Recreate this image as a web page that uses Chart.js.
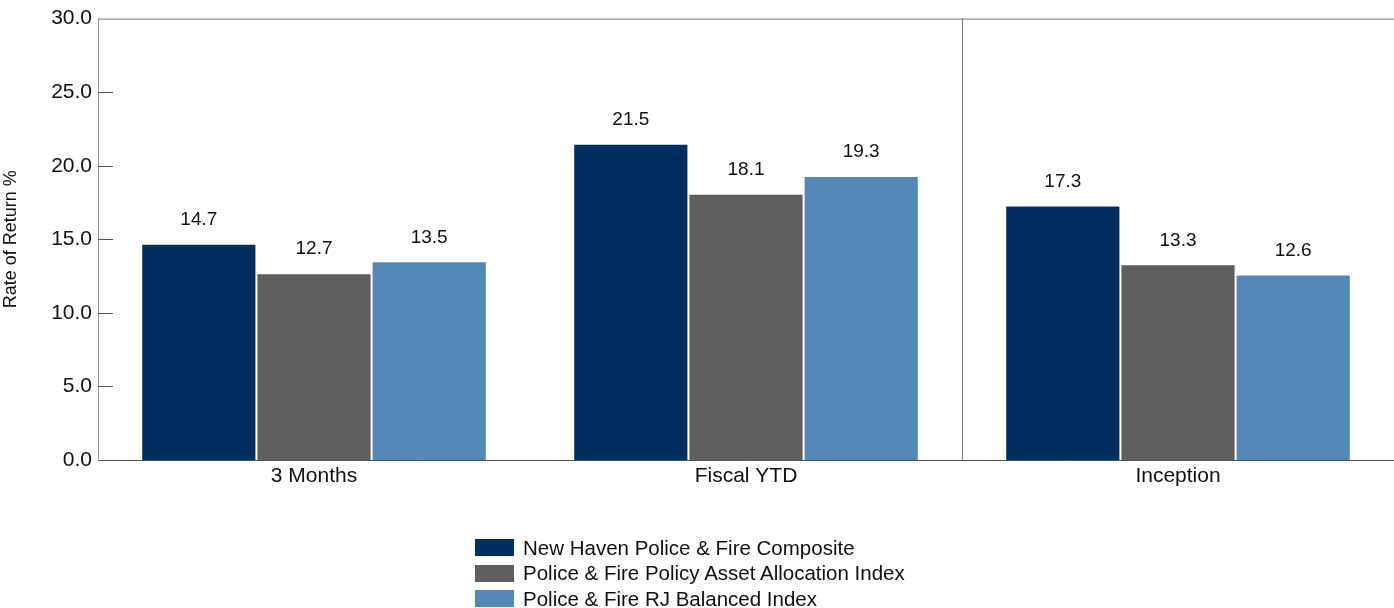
<!DOCTYPE html>
<html>
<head>
<meta charset="utf-8">
<script src="https://cdn.jsdelivr.net/npm/chart.js@4"></script>
<style>
  html, body { margin: 0; padding: 0; background: #fff; }
  #wrap { position: relative; width: 1394px; height: 608px; }
  #legend { position: absolute; left: 475px; top: 535px; font: 20.5px 'Liberation Sans', Arial, sans-serif; color: #111; }
  #legend div { height: 25.5px; display: flex; align-items: center; white-space: nowrap; }
  #legend span.box { display: inline-block; width: 39px; height: 17px; margin-right: 9px; }
</style>
</head>
<body>
<div id="wrap">
  <canvas id="chart" width="1394" height="608"></canvas>
  <div id="legend"></div>
</div>
<script>
// data
const categories = ['3 Months', 'Fiscal YTD', 'Inception'];
const seriesNames = [
  'New Haven Police & Fire Composite',
  'Police & Fire Policy Asset Allocation Index',
  'Police & Fire RJ Balanced Index'
];
const composite = [14.7, 21.5, 17.3];
const policyIndex = [12.7, 18.1, 13.3];
const rjBalanced = [13.5, 19.3, 12.6];
const yTicks = [0, 5, 10, 15, 20, 25, 30];

const colors = ['#00305f', '#5d5f5c', '#5489b7'];
const font = "'Liberation Sans Narrow', 'Arial Narrow', 'Liberation Sans', Arial, sans-serif";

// value labels above the bars
const valueLabels = {
  id: 'valueLabels',
  afterDatasetsDraw(chart) {
    const ctx = chart.ctx;
    ctx.save();
    ctx.font = '19px ' + font;
    ctx.fillStyle = '#111';
    ctx.textAlign = 'center';
    ctx.textBaseline = 'middle';
    chart.data.datasets.forEach((ds, i) => {
      chart.getDatasetMeta(i).data.forEach((bar, j) => {
        ctx.fillText(ds.data[j].toFixed(1), bar.x, bar.y - 24);
      });
    });
    ctx.restore();
  }
};

// top frame line, inside tick marks, separator before last category
const frame = {
  id: 'frame',
  afterDraw(chart) {
    const { ctx, chartArea: a, scales: { x, y } } = chart;
    ctx.save();
    ctx.lineWidth = 1;
    ctx.strokeStyle = '#777';
    ctx.beginPath();
    ctx.moveTo(a.left, a.top + 0.5);
    ctx.lineTo(a.right, a.top + 0.5);
    const sep = Math.round((x.getPixelForValue(1) + x.getPixelForValue(2)) / 2) + 0.5;
    ctx.moveTo(sep, a.top);
    ctx.lineTo(sep, a.bottom);
    ctx.stroke();
    ctx.strokeStyle = '#555';
    ctx.beginPath();
    yTicks.slice(1, -1).forEach(v => {
      const py = Math.round(y.getPixelForValue(v)) + 0.5;
      ctx.moveTo(a.left, py);
      ctx.lineTo(a.left + 15, py);
    });
    ctx.stroke();
    ctx.restore();
  }
};

const chart = new Chart(document.getElementById('chart'), {
  type: 'bar',
  data: {
    labels: categories,
    datasets: [composite, policyIndex, rjBalanced].map((d, i) => ({
      label: seriesNames[i],
      data: d,
      backgroundColor: colors[i],
      borderColor: 'rgba(255,255,255,0.85)',
      borderWidth: 1,
      categoryPercentage: 0.8,
      barPercentage: 1.0
    }))
  },
  options: {
    responsive: false,
    animation: false,
    layout: { padding: { top: 18, right: 0, bottom: 108, left: 0 } },
    plugins: {
      legend: { display: false },
      tooltip: { enabled: false }
    },
    scales: {
      x: {
        grid: { display: false, drawTicks: false },
        border: { color: '#555', width: 1 },
        ticks: { color: '#111', font: { family: font, size: 21 }, padding: 4 },
        afterFit(s) { s.height = 40; }
      },
      y: {
        min: 0,
        max: 30,
        afterBuildTicks(s) { s.ticks = yTicks.map(v => ({ value: v })); },
        grid: { display: false, drawTicks: false },
        border: { color: '#999', width: 1 },
        ticks: {
          color: '#111',
          font: { family: font, size: 21 },
          padding: 6,
          callback: v => Number(v).toFixed(1)
        },
        title: {
          display: true,
          text: 'Rate of Return %',
          color: '#111',
          font: { family: "'Liberation Sans', Arial, sans-serif", size: 18 },
          padding: 0
        },
        afterFit(s) { s.width = 98; }
      }
    }
  },
  plugins: [valueLabels, frame]
});

// legend as a column under the chart
const legend = document.getElementById('legend');
chart.data.datasets.forEach(ds => {
  const row = document.createElement('div');
  const box = document.createElement('span');
  box.className = 'box';
  box.style.background = ds.backgroundColor;
  row.appendChild(box);
  row.appendChild(document.createTextNode(ds.label));
  legend.appendChild(row);
});
</script>
</body>
</html>
